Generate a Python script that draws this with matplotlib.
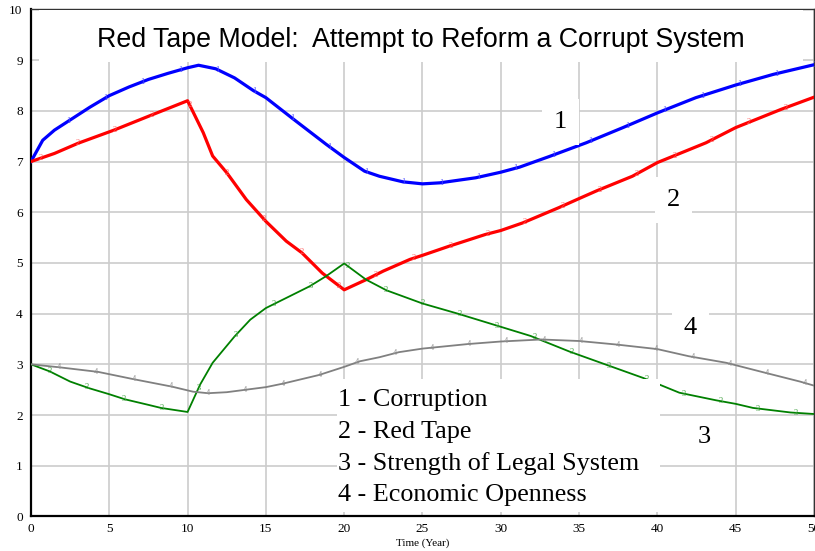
import numpy as np
import matplotlib.pyplot as plt
from matplotlib.patches import Rectangle

plt.switch_backend('agg')

# series (time in years)
corruption_t = [0, 0.75, 1.5, 2.5, 3.75, 5, 6.25, 7.5, 8.75, 10, 10.7, 11.8, 13, 14.2, 15,
                16.7, 18.85, 20, 21.3, 22.25, 23.75, 25, 26.1, 28.4, 30, 31.2, 33.1, 35.45,
                37.8, 40, 42.45, 45, 47.4, 50]
corruption = [7.0, 7.42, 7.62, 7.82, 8.07, 8.3, 8.47, 8.62, 8.74, 8.85, 8.9, 8.83, 8.65, 8.4, 8.26,
              7.85, 7.34, 7.08, 6.81, 6.71, 6.6, 6.56, 6.58, 6.68, 6.79, 6.89, 7.1, 7.37,
              7.67, 7.96, 8.26, 8.51, 8.72, 8.91]

red_tape_t = [0, 1.5, 3, 5.3, 7.8, 10, 11, 11.6, 12.5, 13.75, 15, 16.3, 17.3, 18.6, 20, 21.4,
              22.5, 24.2, 25, 26.7, 29, 30, 31.4, 33.7, 35, 36.1, 38.4, 40, 43.1, 45, 47.9, 50]
red_tape = [7.0, 7.16, 7.36, 7.62, 7.93, 8.2, 7.57, 7.11, 6.78, 6.25, 5.82, 5.43, 5.2, 4.8, 4.47, 4.67,
            4.84, 5.07, 5.15, 5.33, 5.56, 5.64, 5.79, 6.09, 6.27, 6.42, 6.71, 6.98, 7.37, 7.67, 8.03, 8.27]

legal_t = [0, 1.2, 2.5, 3.7, 5, 6, 7.5, 8.3, 10, 10.8, 11.6, 13, 14, 15, 16.5, 17.8, 18.85, 20,
           21.4, 22.7, 25, 27.25, 30, 31.9, 34.4, 36.75, 39.1, 41.4, 43.75, 45, 46.1, 48.5, 50]
legal = [3.0, 2.86, 2.66, 2.53, 2.41, 2.31, 2.2, 2.14, 2.06, 2.6, 3.03, 3.55, 3.88, 4.11, 4.34, 4.54, 4.74, 4.99,
         4.67, 4.46, 4.2, 4.0, 3.74, 3.56, 3.25, 2.99, 2.73, 2.44, 2.29, 2.22, 2.14, 2.05, 2.02]

openness_t = [0, 1.85, 4.3, 6.5, 9, 10.35, 11.3, 12.5, 13.75, 15, 16.1, 18.4, 20, 21, 22.25, 23.5,
              25, 27.9, 30, 32.6, 35, 37.4, 40, 42, 44.4, 46.8, 49.1, 50]
openness = [3.0, 2.94, 2.85, 2.71, 2.56, 2.46, 2.43, 2.45, 2.5, 2.55, 2.62, 2.79, 2.95, 3.06, 3.14, 3.24,
            3.31, 3.40, 3.45, 3.49, 3.46, 3.39, 3.3, 3.16, 3.03, 2.84, 2.66, 2.58]

names = ['Corruption', 'Red Tape', 'Strength of Legal System', 'Economic Openness']
title = 'Red Tape Model:  Attempt to Reform a Corrupt System'

series = [(corruption_t, corruption, '#0000ff', '#5050ff', 2.3),
          (red_tape_t, red_tape, '#ff0000', '#ff6060', 2.3),
          (legal_t, legal, '#008000', '#40a040', 1.3),
          (openness_t, openness, '#808080', '#909090', 1.3)]
label_pos = [(33.8, 7.78), (41.0, 6.24), (43.0, 1.57), (42.1, 3.71)]

serif = 'Liberation Serif'

fig = plt.figure(figsize=(8.15, 5.51), dpi=100)
ax = fig.add_axes([0.038, 0.0628, 0.9608, 0.92])

step = 50 / 21
for j, (t, v, col, mcol, lw) in enumerate(series):
    ax.plot(t, v, color=col, lw=lw, zorder=3, solid_joinstyle='round')
    mt = np.arange(step * j / 4, 50.01, step)
    if j == 0:
        mt = mt[1:]
    for x in mt:
        ax.text(x, np.interp(x, t, v), str(j + 1), color=mcol, fontsize=6,
                ha='center', va='center', family=serif, zorder=4)

ax.set_xlim(0, 50)
ax.set_ylim(0, 10)
ax.set_xticks(np.arange(0, 51, 5))
ax.set_yticks(np.arange(0, 11, 1))
ax.grid(True, color='#cccccc', lw=1.2)
ax.set_axisbelow(True)
ax.tick_params(length=0, labelsize=9.5)
ax.tick_params(axis='y', pad=6)
ax.tick_params(axis='x', pad=5)
for lab in ax.get_xticklabels() + ax.get_yticklabels():
    lab.set_family(serif)
ax.set_xlabel('Time (Year)', family=serif, fontsize=8, labelpad=2)

for s in ['left', 'bottom']:
    ax.spines[s].set_linewidth(1.6)
    ax.spines[s].set_color('black')
for s in ['top', 'right']:
    ax.spines[s].set_linewidth(1.0)
    ax.spines[s].set_color('#333333')

# title with its white panel
ax.add_patch(Rectangle((0.0102, 0.896), 0.976, 0.103, transform=ax.transAxes,
                       facecolor='white', edgecolor='none', zorder=5))
ax.text(0.498, 0.94, title, transform=ax.transAxes, ha='center', va='center',
        fontsize=19.3, family='Liberation Sans', zorder=6)

# curve number labels
for j, (x, y) in enumerate(label_pos):
    box = None if j == 2 else dict(boxstyle='square,pad=0.45', facecolor='white', edgecolor='none')
    ax.text(x, y, str(j + 1), fontsize=19, family=serif, ha='center', va='center',
            bbox=box, zorder=6)

# legend panel
ax.add_patch(Rectangle((0.391, 0.0087), 0.412, 0.262, transform=ax.transAxes,
                       facecolor='white', edgecolor='none', zorder=5))
for j, (name, y) in enumerate(zip(names, [0.2296, 0.1664, 0.1045, 0.0422])):
    ax.text(0.392, y, f'{j + 1} - {name}', transform=ax.transAxes, fontsize=18.8,
            family=serif, ha='left', va='center', zorder=6)

fig.savefig('out.png', dpi=100)
